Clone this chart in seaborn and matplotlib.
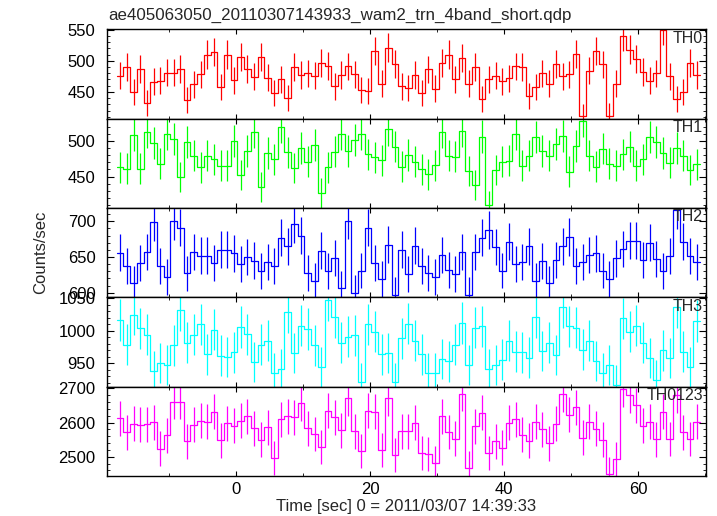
import numpy as np
import matplotlib
matplotlib.use("Agg")
import matplotlib.pyplot as plt
from matplotlib.ticker import MultipleLocator
import seaborn as sns

# 1 s bins, first bin centred at -17.3 s
t_first = -17.3
bin_width = 1.0

# count rates per band (counts/sec)
th0 = [476, 490, 450, 487, 432, 466, 468, 481, 481, 487, 437, 462, 478, 510, 514, 458,
       510, 469, 506, 487, 474, 506, 473, 448, 470, 440, 490, 477, 480, 476, 496, 492,
       459, 477, 491, 478, 453, 451, 516, 463, 521, 495, 459, 456,
       477, 448, 486, 455, 496, 510, 470, 504, 463, 490, 438, 470, 476, 467, 472, 491,
       490, 443, 458, 480, 463, 495, 475, 478, 511, 411, 484, 516, 494, 412, 463, 539,
       518, 503, 482, 468, 480, 549, 475, 439, 450, 496, 477]
th1 = [463, 461, 508, 461, 512, 497, 468, 510, 502, 449, 498, 479, 463, 479, 474, 465,
       465, 500, 452, 486, 512, 435, 483, 474, 520, 484, 462, 490, 471, 494, 427, 463,
       485, 510, 486, 501, 509, 481, 477, 473, 516, 492, 464, 480,
       471, 460, 453, 466, 513, 479, 478, 514, 458, 438, 506, 410, 459, 471, 472, 509,
       465, 479, 505, 486, 479, 496, 507, 457, 493, 528, 479, 464, 489, 468, 465, 481,
       492, 465, 474, 505, 498, 483, 469, 490, 479, 459, 467]
th2 = [656, 638, 613, 642, 657, 699, 637, 622, 700, 691, 627, 657, 652, 652, 641, 660,
       660, 655, 640, 650, 645, 630, 643, 637, 677, 665, 696, 680, 628, 617, 659, 630,
       649, 606, 701, 600, 631, 691, 642, 619, 667, 597, 660, 626,
       666, 637, 628, 622, 653, 632, 626, 657, 597, 657, 677, 688, 664, 631, 671, 640,
       643, 665, 617, 644, 613, 646, 665, 678, 637, 643, 653, 655, 631, 619, 648, 661,
       673, 673, 646, 670, 647, 630, 651, 716, 671, 651, 643]
th3 = [1017, 979, 1025, 1004, 994, 939, 950, 948, 978, 1032, 982, 994, 1010, 964, 1002, 962,
       960, 967, 1006, 995, 952, 979, 985, 936, 942, 1029, 966, 1008, 1003, 978, 945, 1048,
       1021, 982, 991, 993, 921, 1010, 999, 964, 966, 921, 989, 1011,
       985, 964, 936, 936, 957, 953, 979, 1012, 948, 1005, 1007, 942, 947, 956, 985, 968,
       967, 959, 1021, 969, 982, 963, 1036, 1007, 1005, 971, 985, 954, 935, 947, 917, 1019,
       999, 1008, 982, 958, 925, 970, 958, 1037, 968, 944, 1015]
th0123 = [2613, 2571, 2597, 2594, 2595, 2601, 2524, 2563, 2661, 2661, 2545, 2594, 2606, 2603,
          2632, 2548, 2598, 2591, 2606, 2619, 2583, 2550, 2586, 2497, 2609, 2619, 2616, 2656,
          2583, 2567, 2528, 2635, 2616, 2577, 2671, 2574, 2516, 2635, 2632, 2519, 2671, 2505,
          2574, 2574,
          2600, 2512, 2507, 2483, 2619, 2572, 2553, 2685, 2466, 2589, 2629, 2512, 2545, 2527,
          2600, 2610, 2565, 2547, 2603, 2580, 2539, 2597, 2684, 2623, 2645, 2556, 2603, 2582,
          2550, 2449, 2494, 2698, 2681, 2650, 2591, 2603, 2551, 2632, 2552, 2680, 2571, 2552,
          2603]

bands = ["TH0", "TH1", "TH2", "TH3", "TH0123"]
band_rates = [th0, th1, th2, th3, th0123]
colors = ["#ff0000", "#00ff00", "#0000ff", "#00ffff", "#ff00ff"]
ylims = [(407, 550.5), (406, 531), (593.5, 718.6), (914.3, 1051.5), (2443.7, 2705)]
major_step = [50, 50, 50, 50, 100]
minor_step = [10, 10, 10, 10, 20]

title = "ae405063050_20110307143933_wam2_trn_4band_short.qdp"
xlabel = "Time [sec] 0 = 2011/03/07 14:39:33"

sns.set_style("ticks")
plt.rcParams["font.family"] = ["Liberation Sans", "DejaVu Sans"]
plt.rcParams["axes.linewidth"] = 1.0

fig, axes = plt.subplots(5, 1, sharex=True, figsize=(7.17, 5.16), dpi=100)
fig.subplots_adjust(left=0.1488, right=0.9847, top=0.9432, bottom=0.0775, hspace=0)

for ax, name, rates, c, lim, maj, mnr in zip(axes, bands, band_rates, colors, ylims,
                                             major_step, minor_step):
    rates = np.array(rates, dtype=float)
    t = t_first + bin_width * np.arange(len(rates))
    edges = np.append(t - bin_width / 2, t[-1] + bin_width / 2)
    # histogram-style light curve
    sns.lineplot(x=edges, y=np.append(rates, rates[-1]), ax=ax, color=c,
                 drawstyle="steps-post", lw=0.9, estimator=None, sort=False)
    # poisson errors of the 1 s bins
    ax.errorbar(t, rates, yerr=np.sqrt(rates), fmt="none", ecolor=c, elinewidth=0.9)
    ax.set_ylim(*lim)
    ax.set_xlim(-19.3, 70.1)
    ax.yaxis.set_major_locator(MultipleLocator(maj))
    ax.yaxis.set_minor_locator(MultipleLocator(mnr))
    ax.xaxis.set_major_locator(MultipleLocator(20))
    ax.xaxis.set_minor_locator(MultipleLocator(10))
    ax.tick_params(which="both", direction="in", top=True, right=True, labelsize=12,
                   colors="black")
    ax.tick_params(axis="y", which="major", length=4.8, pad=8)
    ax.tick_params(axis="y", which="minor", length=2.4)
    ax.tick_params(axis="x", which="major", length=3.5, pad=4)
    ax.tick_params(axis="x", which="minor", length=2)
    for s in ax.spines.values():
        s.set_color("black")
    ax.set_ylabel("")
    ax.text(0.995, 0.985, name, transform=ax.transAxes, ha="right", va="top", fontsize=11.5)

fig.text(108 / 717, 1 - 23 / 516, title, ha="left", va="bottom", fontsize=12.2)
fig.text(41 / 717, 0.5 * (0.9432 + 0.0775), "Counts/sec", rotation=90,
         ha="center", va="center", fontsize=12)
fig.text(406 / 717, 1 - 507 / 516, xlabel, ha="center", va="center", fontsize=12)

fig.savefig("out.png", dpi=100)
